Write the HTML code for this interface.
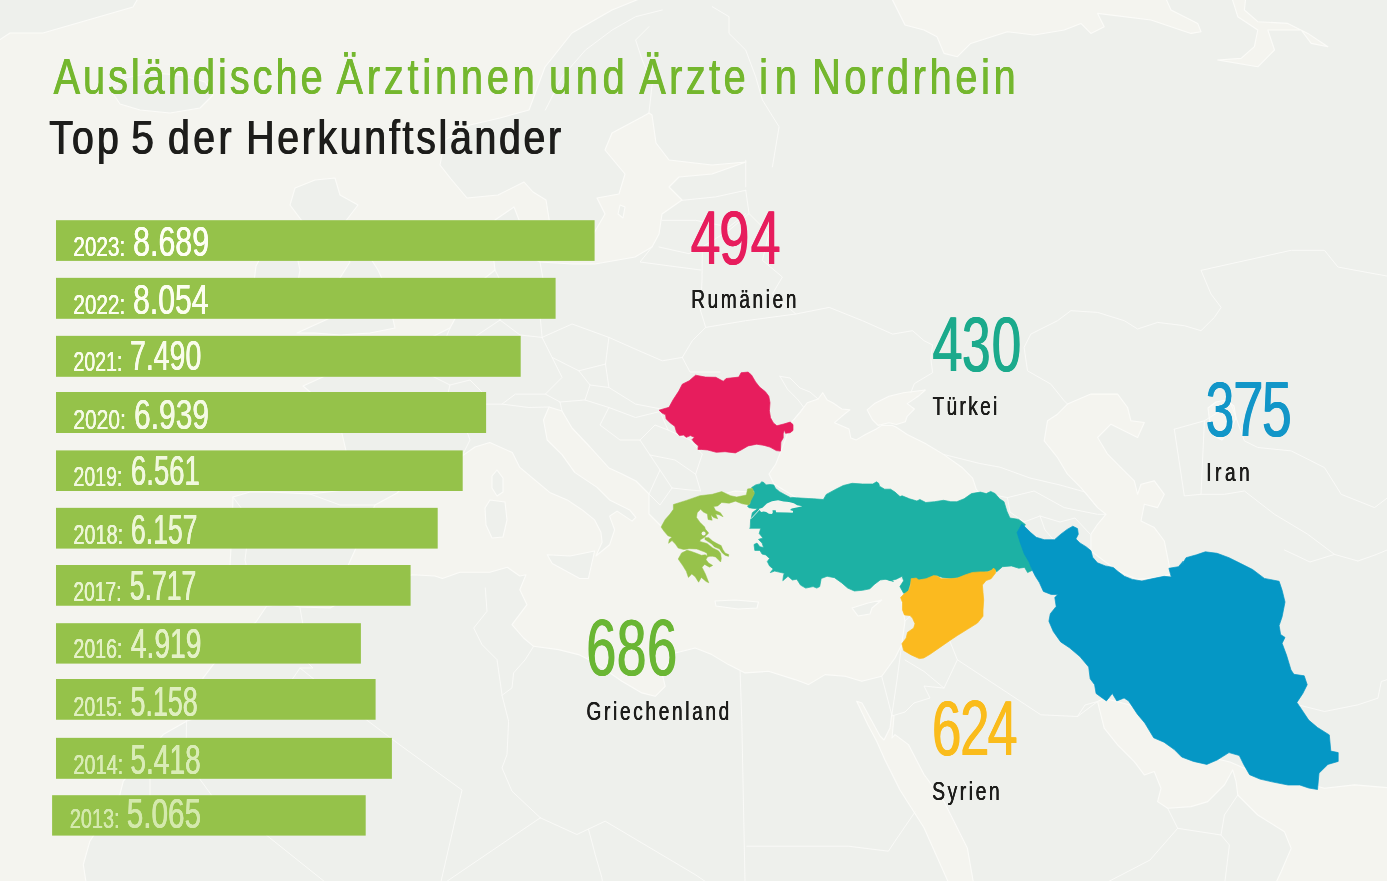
<!DOCTYPE html>
<html><head><meta charset="utf-8"><title>Ausländische Ärztinnen und Ärzte in Nordrhein</title>
<style>
html,body{margin:0;padding:0;background:#f4f4ef;}
body{width:1387px;height:881px;overflow:hidden;}
svg{display:block;font-family:"Liberation Sans",sans-serif;}
</style></head><body>
<svg width="1387" height="881" viewBox="0 0 1387 881">
<defs><mask id="full" maskUnits="userSpaceOnUse" x="0" y="0" width="1387" height="881"><rect width="1387" height="881" fill="#fff"/></mask></defs>
<g mask="url(#full)">
<rect width="1387" height="881" fill="#f4f4ef"/>
<g stroke="#fbfbf8" stroke-width="1.1" stroke-linejoin="round">
<path d="M86.6,886 L83.3,864.5 L89.9,841.2 L119.9,794.5 L123.3,781.2 L163.2,734.6 L186.5,721.2 L203.2,677.9 L213.2,664.6 L256.5,621.3 L266.5,606.3 L285,604 L300,607 L330,608 L345,600 L380,585 L412.4,574.8 L434.9,576 L442.4,578.5 L459.9,572.3 L489.8,572.3 L507.3,567.3 L519.8,576 L526,574.8 L519.8,589.7 L527,604.7 L512,624.6 L523.6,638 L533.6,646.3 L558.6,649.6 L578.6,654.6 L588.6,659.6 L605.2,669.6 L621.9,681.3 L641.9,692.9 L655.2,696.3 L665.2,686.3 L661.9,672.9 L675.2,653 L695.2,648 L711.8,654.6 L728.5,664.6 L745.1,672.9 L768.5,671.3 L795.1,679.6 L808.4,684.6 L825.1,674.6 L845.1,676.3 L861.7,681.3 L881.7,676.3 L895,658 L901.7,644.6 L905,621.3 L901.7,601.3 L902,590 L903,582 L890,572 L860,575 L845,572 L830,568 L815,570 L800,570 L780,560 L768,535 L756,510 L750,492 L735,491 L715,496 L697,503 L686,512 L681,530 L690,552 L697,572 L692,570 L688,560 L686,552 L680,546 L674,540 L668,533 L663,528 L649,514 L649,494 L636,481 L622,474 L609,468 L590,447 L572,428 L562,411 L549,407 L543.5,420 L547.2,440 L562.2,454.9 L574.7,472.4 L597.1,487.4 L609.6,499.9 L629.6,509.9 L635.8,517.4 L632.1,521.1 L617.1,511.1 L609.6,516.1 L614.6,529.8 L609.6,544.8 L595.9,556 L602.1,542.3 L600.9,532.3 L594.6,519.9 L582.2,509.9 L567.2,499.9 L549.7,492.4 L534.7,479.9 L519.8,467.4 L512.3,452.5 L489.8,442.5 L475,447 L462,456 L445,462 L425,468 L408,482 L397,493 L375,505 L366,525 L356,548 L346,570 L322,590 L292,598 L275,600 L255,592 L233,590 L230,565 L232,530 L233,497 L250,492 L270,492 L310,494 L345,490 L347,455 L340,425 L322,402 L303,386 L325,376 L345,373 L350,361 L358,372 L375,365 L400,352 L430,338 L450,328 L465,300 L480,282 L495,270 L492,245 L495,220 L514,207 L521,225 L516,250 L540,262 L572,264 L595,264 L635,257 L652,247 L659,234 L662,214 L672,207 L682,200 L669,187 L679,177 L712,174 L746,162 L712,165 L669,160 L656,143 L652,115 L649,113 L642,117 L612,133 L605,150 L625,174 L619,194 L597,198 L605,214 L594,233 L580,243 L560,241 L550,225 L546,200 L533,192 L524,182 L498,195 L467,198 L451,179 L440,165 L445,140 L470,125 L500,118 L529,110 L545,67 L572,33 L612,10 L649,-5 L1395,-5 L1395,886Z" fill="#eef0ec"/>
<path d="M890,-5 L905,25 L924,30 L937,36.7 L944,53.4 L957.4,56.7 L970.7,43.4 L1007.4,31.7 L1034.1,35 L1064.2,30 L1080.9,23.4 L1090.9,33.4 L1104.2,26.7 L1097.6,13.4 L1151,20 L1191,33.4 L1201,31.7 L1197.7,23.4 L1171,10 L1164.3,-5Z" fill="#f4f4ef"/>
<path d="M1231,-5 L1237.8,16.7 L1257.8,30 L1254.4,46.7 L1241.1,58.4 L1217.7,60 L1257.8,66.8 L1274.5,50 L1267.8,30 L1301.2,30 L1311.2,43.4 L1327.9,46.7 L1307.8,33.4 L1287.8,23.4 L1257.8,21.7 L1244.4,10 L1246,-5Z" fill="#f4f4ef"/>
<path d="M792.4,420.8 L793.6,419.9 L800,412.7 L807.2,402.7 L818.1,399 L822.7,392.7 L827.2,400 L832.7,402.7 L841.8,409 L849.9,409.9 L841.8,416.3 L834.5,422.7 L849,429 L850.8,438.1 L856.3,439.9 L865.4,434.5 L876.3,429 L881.7,425.4 L892.6,425.4 L896.3,427.2 L907.2,434.5 L925.3,443.5 L943.5,454.4 L961.7,467.2 L972.6,478.1 L976.2,489 L979.8,494.4 L990,500 L1000,510 L900,505 L800,500 L774,484 L769,474 L775.7,464.2 L782.4,447.5Z" fill="#f4f4ef"/>
<path d="M867.2,409.9 L874.5,403.6 L889,396.3 L903.5,392.7 L925.3,390 L918.1,396.3 L907.2,403.6 L914.4,409 L907.2,416.3 L905.3,421.7 L896.3,424.5 L889,422.7 L878.1,425.4 L872.6,419.9Z" fill="#f4f4ef"/>
<path d="M1067.5,404.1 L1090.9,394.1 L1117.6,394.1 L1127.6,407.5 L1130.9,420.8 L1144.3,422.5 L1137.6,437.5 L1110.9,424.2 L1097.6,437.5 L1107.6,454.2 L1120.9,467.6 L1134.3,480.9 L1137.6,494.3 L1141,484.3 L1154.3,480.9 L1164.3,494.3 L1157.6,507.6 L1144.3,504.3 L1141,521 L1154.3,527.6 L1164.3,541 L1171,574.4 L1154.3,577.7 L1137.6,579.4 L1117.6,571 L1104.2,561 L1090.9,551 L1090.9,534.3 L1097.6,524.3 L1105.9,514.3 L1097.6,507.6 L1080.9,487.6 L1067.5,474.2 L1057.5,457.5 L1044.2,440.9 L1047.5,420.8 L1057.5,414.2Z" fill="#f4f4ef"/>
<path d="M1208,408 L1216,402 L1226,400 L1234,406 L1236,418 L1230,430 L1222,440 L1214,436 L1210,424Z" fill="#f4f4ef"/>
<path d="M856.7,701.3 L862,703 L880,736 L884,740 L890,728 L891.7,714.6 L894,716 L892,738 L895,734.6 L908.4,744.6 L924,774.5 L944,801.6 L967.4,848.3 L974,886 L950,886 L924,827.8 L900,790 L885,760 L876.7,741.2 L868,725Z" fill="#f4f4ef"/>
<path d="M1097.6,701.5 L1104.2,698.2 L1130,705 L1160,730 L1200,755 L1230,762 L1260,775 L1300,782 L1324.5,788.3 L1354.6,784.9 L1395,788.3 L1395,886 L1274.5,886 L1281.1,871.7 L1291.2,848.4 L1284.5,831.7 L1257.8,815 L1237.8,795 L1236.1,781.6 L1232.7,769.9 L1224.4,784.9 L1207.7,801.6 L1191,806.6 L1167.7,808.3 L1157.6,801.6 L1161,788.3 L1154.3,771.6 L1144.3,774.9 L1134.3,761.6 L1117.6,744.9 L1104.2,728.2Z" fill="#f4f4ef"/>
<path d="M297,333 L330,318 L350,310 L325,300 L322,285 L340,278 L350,262 L335,245 L305,225 L290,205 L295,188 L315,180 L335,178 L340,195 L358,205 L345,222 L362,245 L378,270 L385,285 L398,295 L392,315 L395,328 L370,333 L340,335 L315,333Z" fill="#eef0ec"/>
<path d="M262,255 L280,246 L296,252 L300,270 L296,292 L280,304 L262,300 L254,282 L256,266Z" fill="#eef0ec"/>
<path d="M112,92 L125,78 L150,73 L180,75 L205,82 L213,95 L200,108 L170,113 L140,110 L120,104Z" fill="#eef0ec"/>
<path d="M-5,-5 L140,-5 L133,7 L43,33 L10,33 L-5,43Z" fill="#eef0ec"/>
<path d="M497,470 L503,478 L503,492 L497,496 L492,488 L492,476Z" fill="#eef0ec"/>
<path d="M490,500 L505,502 L507,520 L503,537 L492,538 L486,525 L485,508Z" fill="#eef0ec"/>
<path d="M547.2,554.8 L570,556 L594.6,551 L588.4,578.5 L579.7,578.5 L552.2,563.5Z" fill="#eef0ec"/>
<path d="M715,601 L735,600 L758.5,602 L757,608 L738,609 L716,606Z" fill="#eef0ec"/>
<path d="M852,608 L868,603 L881.7,600 L872,608 L870,614 L858,616Z" fill="#eef0ec"/>
<path d="M528,238 L540,236 L544,248 L534,254 L526,248Z" fill="#eef0ec"/>
<path d="M620,205 L625,207 L623,218 L618,214Z" fill="#eef0ec"/>
</g>
<g fill="none" stroke="#fbfbf8" stroke-width="0.9" stroke-linejoin="round" stroke-linecap="round" opacity="1">
<path d="M740.1,671.3 L741.8,721.2 L745.1,886"/>
<path d="M746.8,846.2 L848.4,846.2 L888.4,851.2 L895,841.2 L915,812"/>
<path d="M485.3,588 L487,611.3 L473.7,628 L482,644.6 L497,659.6 L502,694.6"/>
<path d="M533.6,646.3 L525.3,659.6 L513.6,672.9 L512,687.9 L502,695.3"/>
<path d="M502,695.3 L508.6,721.2 L507,754.6 L502,767.9 L512,791.2 L540.3,817.8"/>
<path d="M540.3,817.8 L576.9,834.5 L605.2,821.2 L695,874.5 L712,886"/>
<path d="M540.3,817.8 L462,871 L440,886"/>
<path d="M588.6,829.5 L595.2,854.5 L601.9,877.8 L603,886"/>
<path d="M300,608 L303,625 L296,640 L300,655 L313,668 L300,668 L285,690 L250,705 L215,712 L186.5,721.2"/>
<path d="M300,668 L340,700 L400,745 L462,790 L440,886"/>
<path d="M186.5,721.2 L186,760 L150,762 L150,800 L122,802 L120,795"/>
<path d="M186,760 L215,800 L260,830 L330,886"/>
<path d="M881.7,676.3 L891.7,714.6"/>
<path d="M901.7,644.6 L897,680 L892,714"/>
<path d="M892,716 L905,712 L914,703 L930,698 L924,686 L944,688.1"/>
<path d="M949,639 L957.4,659.8 L944,688.1 L924,671.4 L905,660"/>
<path d="M957.4,659.8 L1040.8,714.8 L1077.5,716.5 L1097.6,701.5"/>
<path d="M1077.5,716.5 L1085,705 L1097.6,701.5"/>
<path d="M1167.7,808.3 L1177.7,828.3 L1221,835 L1224.4,815 L1237.8,795"/>
<path d="M1221,835 L1229.4,845 L1224.4,886"/>
<path d="M1177.7,828.3 L1150,860 L1100,886"/>
<path d="M902,601 L912,603 L915,612 L905,621"/>
<path d="M1297.8,704.8 L1324.5,711.5 L1357.9,704.8 L1377.9,698.2 L1381.3,681.5 L1392,678.1"/>
<path d="M1284.5,550 L1310,562 L1334.5,554.4"/>
<path d="M1357.9,561 L1375,555 L1392,548"/>
<path d="M1067.5,404.1 L1064.2,400.8 L1050.8,384.1 L1027.5,370.8 L1024.1,347.4 L1030.8,334.1 L1057.5,320.7 L1070.9,310.7 L1097.6,312.4 L1124.3,320.7 L1137.6,329 L1157.6,322.4 L1184.3,325.7 L1201,330.7 L1214.4,317.4 L1221.1,307.4 L1211,294 L1201,270.4 L1291.2,250.3 L1324.5,250.3 L1337.9,267 L1392,277"/>
<path d="M1174.3,429.2 L1204.4,420.8 L1201,494.3 L1184.3,495.9 L1174.3,429.2"/>
<path d="M1204.4,420.8 L1231.1,404.1 L1244.4,440.9 L1257.8,447.5 L1291.2,450.9 L1324.5,467.6 L1341.2,494.3 L1374.6,507.6 L1392,494.3"/>
<path d="M1201,494.3 L1224.4,494.3 L1244.4,491 L1274.5,514.3 L1307.8,534.3 L1334.5,554.4 L1357.9,561"/>
<path d="M943.5,454.4 L979.8,463.5 L1000,467.2 L1030,478 L1060,485 L1085,492 L1097.6,507.6"/>
<path d="M974,491 L1007.4,497.6 L1034.1,491 L1064.2,507.6 L1097.6,514.3 L1105.9,514.3"/>
<path d="M1007.4,497.6 L1010,512 L1024,522"/>
<path d="M1024,522 L1040,516 L1060,522 L1075,518 L1090,534"/>
<path d="M1040,516 L1045,530 L1058,545"/>
<path d="M705.7,327.4 L745.7,320.7 L795.8,314 L829.2,307.4 L862.5,320.7 L892.6,334.1 L912.6,330.7 L924,340.7 L932.6,345 L930.8,358.2 L932.6,372.7 L914.4,383.6 L910.8,392.7"/>
<path d="M780,376.3 L787.3,389 L798.2,400 L803.6,407.2 L793.6,419.9"/>
<path d="M780,376.3 L790,378 L800,388 L810,392 L818.1,399"/>
<path d="M749.1,213.6 L769.1,233.6 L762.4,260.3 L782.4,277 L772.4,294 L795.8,314"/>
<path d="M700.6,310.7 L702,280 L702.3,247"/>
<path d="M542.1,337.4 L572.1,324 L608.9,337.4 L638.9,350.7 L662.3,360.8 L682.3,357.4 L692.3,340.7 L705.7,327.4 L700.6,310.7 L695.6,294"/>
<path d="M542.1,337.4 L552.1,357.4 L578.8,370.8 L605.5,364.1 L608.9,337.4"/>
<path d="M540,262 L545,290 L540,315 L542.1,337.4"/>
<path d="M605.5,364.1 L608.9,387.5 L635.6,404.1 L662.3,409.2"/>
<path d="M608.9,407.5 L635.6,417.5 L660,411.5"/>
<path d="M552.1,357.4 L562.1,377.4 L545.4,394.1 L515.4,394.1 L502,404.1"/>
<path d="M578.8,370.8 L590,385 L608.9,387.5"/>
<path d="M590,385 L585,400 L608.9,407.5"/>
<path d="M462,417.5 L482,404.1 L502,404.1 L528.8,407.5 L549,407"/>
<path d="M545.4,394.1 L560,402 L562,411"/>
<path d="M560,402 L585,400"/>
<path d="M682.3,357.4 L690,372 L720,372"/>
<path d="M702.3,454.2 L695.6,474.2 L700.6,490.9"/>
<path d="M660,411.5 L668,430 L690,440 L702.3,454.2"/>
<path d="M608.9,407.5 L600,425 L620,440 L640,440 L650,455 L660,470 L649,494"/>
<path d="M640,440 L655,425 L668,430"/>
<path d="M650,455 L675,460 L695.6,474.2"/>
<path d="M660,470 L672,488 L690,490 L700.6,490.9"/>
<path d="M649,494 L660,505 L672,488"/>
<path d="M545.4,110 L562.1,76.8 L585.5,50 L612.2,30 L635.6,16.7 L662.3,10"/>
<path d="M648.9,113.5 L652.3,83.4 L642.2,60 L635.6,40 L648.9,26.7"/>
<path d="M772.4,166.9 L779.1,126.8 L762.4,100 L755.7,76.8 L745.7,50 L729,33.4 L729,16.7 L712.3,6.7"/>
<path d="M745.7,160.2 L745.7,186.9"/>
<path d="M682.3,200.3 L715.7,196.9 L745.7,190.3"/>
<path d="M662.3,220.3 L695.6,220.3 L729,227 L745.7,213.6"/>
<path d="M659,247 L689,253.7 L702.3,247 L729,230.3"/>
<path d="M745.7,190.3 L749.1,213.6 L729,230.3"/>
<path d="M652,247 L640,262 L700.6,270"/>
<path d="M310,494 L340,505 L375,505"/>
<path d="M233,497 L250,520 L245,560 L252,590"/>
<path d="M462,456 L470,440 L462,417.5 L445,405 L450,385 L430,375 L440,352 L450,328"/>
<path d="M450,385 L470,380 L485,395 L482,404.1"/>
<path d="M495,270 L505,290 L500,320 L470,340 L440,352"/>
<path d="M500,320 L520,335 L542.1,337.4"/>
<path d="M492,245 L516,250"/>
</g>
<rect x="56" y="220.2" width="538.6" height="40.70" fill="#95c24a"/>
<text transform="translate(73.26,255.67) scale(0.2074,0.2777)" font-size="100" fill="#fefff4">2023:</text>
<text transform="translate(73.36,255.67) scale(0.2074,0.2777)" font-size="100" fill="#fefff4">2023:</text>
<text transform="translate(73.46,255.67) scale(0.2074,0.2777)" font-size="100" fill="#fefff4">2023:</text>
<text transform="translate(132.89,255.53) scale(0.3035,0.4234)" font-size="100" fill="#fefff4">8.689</text>
<text transform="translate(133.11,255.53) scale(0.3035,0.4234)" font-size="100" fill="#fefff4">8.689</text>
<text transform="translate(133.33,255.53) scale(0.3035,0.4234)" font-size="100" fill="#fefff4">8.689</text>
<rect x="56" y="277.85" width="499.6" height="40.95" fill="#95c24a"/>
<text transform="translate(73.26,313.67) scale(0.2074,0.2777)" font-size="100" fill="#fcfef0">2022:</text>
<text transform="translate(73.36,313.67) scale(0.2074,0.2777)" font-size="100" fill="#fcfef0">2022:</text>
<text transform="translate(73.46,313.67) scale(0.2074,0.2777)" font-size="100" fill="#fcfef0">2022:</text>
<text transform="translate(132.90,313.53) scale(0.3013,0.4234)" font-size="100" fill="#fcfef0">8.054</text>
<text transform="translate(133.12,313.53) scale(0.3013,0.4234)" font-size="100" fill="#fcfef0">8.054</text>
<text transform="translate(133.34,313.53) scale(0.3013,0.4234)" font-size="100" fill="#fcfef0">8.054</text>
<rect x="56" y="335.85" width="464.7" height="40.95" fill="#95c24a"/>
<text transform="translate(73.32,370.62) scale(0.1956,0.2784)" font-size="100" fill="#f9fceb">2021:</text>
<text transform="translate(73.42,370.62) scale(0.1956,0.2784)" font-size="100" fill="#f9fceb">2021:</text>
<text transform="translate(73.52,370.62) scale(0.1956,0.2784)" font-size="100" fill="#f9fceb">2021:</text>
<text transform="translate(129.86,370.48) scale(0.2845,0.4255)" font-size="100" fill="#f9fceb">7.490</text>
<text transform="translate(130.08,370.48) scale(0.2845,0.4255)" font-size="100" fill="#f9fceb">7.490</text>
<text transform="translate(130.30,370.48) scale(0.2845,0.4255)" font-size="100" fill="#f9fceb">7.490</text>
<rect x="56" y="392.0" width="430.1" height="41.00" fill="#95c24a"/>
<text transform="translate(73.25,428.67) scale(0.2099,0.2777)" font-size="100" fill="#f5fae5">2020:</text>
<text transform="translate(73.35,428.67) scale(0.2099,0.2777)" font-size="100" fill="#f5fae5">2020:</text>
<text transform="translate(73.45,428.67) scale(0.2099,0.2777)" font-size="100" fill="#f5fae5">2020:</text>
<text transform="translate(133.88,428.53) scale(0.2995,0.4234)" font-size="100" fill="#f5fae5">6.939</text>
<text transform="translate(134.10,428.53) scale(0.2995,0.4234)" font-size="100" fill="#f5fae5">6.939</text>
<text transform="translate(134.32,428.53) scale(0.2995,0.4234)" font-size="100" fill="#f5fae5">6.939</text>
<rect x="56" y="450.4" width="406.7" height="40.60" fill="#95c24a"/>
<text transform="translate(73.32,485.62) scale(0.1956,0.2784)" font-size="100" fill="#f1f8de">2019:</text>
<text transform="translate(73.42,485.62) scale(0.1956,0.2784)" font-size="100" fill="#f1f8de">2019:</text>
<text transform="translate(73.52,485.62) scale(0.1956,0.2784)" font-size="100" fill="#f1f8de">2019:</text>
<text transform="translate(130.81,485.48) scale(0.2744,0.4255)" font-size="100" fill="#f1f8de">6.561</text>
<text transform="translate(131.03,485.48) scale(0.2744,0.4255)" font-size="100" fill="#f1f8de">6.561</text>
<text transform="translate(131.25,485.48) scale(0.2744,0.4255)" font-size="100" fill="#f1f8de">6.561</text>
<rect x="56" y="507.85" width="381.7" height="40.75" fill="#95c24a"/>
<text transform="translate(73.31,543.67) scale(0.1989,0.2777)" font-size="100" fill="#edf6d7">2018:</text>
<text transform="translate(73.41,543.67) scale(0.1989,0.2777)" font-size="100" fill="#edf6d7">2018:</text>
<text transform="translate(73.51,543.67) scale(0.1989,0.2777)" font-size="100" fill="#edf6d7">2018:</text>
<text transform="translate(130.85,543.53) scale(0.2651,0.4234)" font-size="100" fill="#edf6d7">6.157</text>
<text transform="translate(131.07,543.53) scale(0.2651,0.4234)" font-size="100" fill="#edf6d7">6.157</text>
<text transform="translate(131.29,543.53) scale(0.2651,0.4234)" font-size="100" fill="#edf6d7">6.157</text>
<rect x="56" y="565.0" width="354.6" height="40.75" fill="#95c24a"/>
<text transform="translate(73.34,600.62) scale(0.1920,0.2784)" font-size="100" fill="#e8f4cf">2017:</text>
<text transform="translate(73.44,600.62) scale(0.1920,0.2784)" font-size="100" fill="#e8f4cf">2017:</text>
<text transform="translate(73.54,600.62) scale(0.1920,0.2784)" font-size="100" fill="#e8f4cf">2017:</text>
<text transform="translate(129.62,600.48) scale(0.2657,0.4205)" font-size="100" fill="#e8f4cf">5.717</text>
<text transform="translate(129.84,600.48) scale(0.2657,0.4205)" font-size="100" fill="#e8f4cf">5.717</text>
<text transform="translate(130.06,600.48) scale(0.2657,0.4205)" font-size="100" fill="#e8f4cf">5.717</text>
<rect x="56" y="623.2" width="304.9" height="40.40" fill="#95c24a"/>
<text transform="translate(73.32,657.72) scale(0.1956,0.2799)" font-size="100" fill="#e4f1c7">2016:</text>
<text transform="translate(73.42,657.72) scale(0.1956,0.2799)" font-size="100" fill="#e4f1c7">2016:</text>
<text transform="translate(73.52,657.72) scale(0.1956,0.2799)" font-size="100" fill="#e4f1c7">2016:</text>
<text transform="translate(130.65,657.58) scale(0.2821,0.4270)" font-size="100" fill="#e4f1c7">4.919</text>
<text transform="translate(130.87,657.58) scale(0.2821,0.4270)" font-size="100" fill="#e4f1c7">4.919</text>
<text transform="translate(131.09,657.58) scale(0.2821,0.4270)" font-size="100" fill="#e4f1c7">4.919</text>
<rect x="56" y="679.0" width="319.6" height="40.75" fill="#95c24a"/>
<text transform="translate(73.32,715.72) scale(0.1956,0.2784)" font-size="100" fill="#dfefbf">2015:</text>
<text transform="translate(73.42,715.72) scale(0.1956,0.2784)" font-size="100" fill="#dfefbf">2015:</text>
<text transform="translate(73.52,715.72) scale(0.1956,0.2784)" font-size="100" fill="#dfefbf">2015:</text>
<text transform="translate(130.20,715.58) scale(0.2694,0.4241)" font-size="100" fill="#dfefbf">5.158</text>
<text transform="translate(130.42,715.58) scale(0.2694,0.4241)" font-size="100" fill="#dfefbf">5.158</text>
<text transform="translate(130.64,715.58) scale(0.2694,0.4241)" font-size="100" fill="#dfefbf">5.158</text>
<rect x="56" y="737.85" width="335.9" height="40.95" fill="#95c24a"/>
<text transform="translate(73.31,773.72) scale(0.1989,0.2784)" font-size="100" fill="#d9ecb6">2014:</text>
<text transform="translate(73.41,773.72) scale(0.1989,0.2784)" font-size="100" fill="#d9ecb6">2014:</text>
<text transform="translate(73.51,773.72) scale(0.1989,0.2784)" font-size="100" fill="#d9ecb6">2014:</text>
<text transform="translate(130.15,773.58) scale(0.2814,0.4241)" font-size="100" fill="#d9ecb6">5.418</text>
<text transform="translate(130.37,773.58) scale(0.2814,0.4241)" font-size="100" fill="#d9ecb6">5.418</text>
<text transform="translate(130.59,773.58) scale(0.2814,0.4241)" font-size="100" fill="#d9ecb6">5.418</text>
<rect x="52.1" y="795.2" width="313.6" height="40.40" fill="#95c24a"/>
<text transform="translate(69.71,827.82) scale(0.1989,0.2770)" font-size="100" fill="#d4e9ad">2013:</text>
<text transform="translate(69.81,827.82) scale(0.1989,0.2770)" font-size="100" fill="#d4e9ad">2013:</text>
<text transform="translate(69.91,827.82) scale(0.1989,0.2770)" font-size="100" fill="#d4e9ad">2013:</text>
<text transform="translate(126.49,827.68) scale(0.2976,0.4284)" font-size="100" fill="#d4e9ad">5.065</text>
<text transform="translate(126.71,827.68) scale(0.2976,0.4284)" font-size="100" fill="#d4e9ad">5.065</text>
<text transform="translate(126.93,827.68) scale(0.2976,0.4284)" font-size="100" fill="#d4e9ad">5.065</text>
<text transform="translate(53.20,93.50) scale(0.3968,0.4960)" font-size="100" fill="#74b72e" letter-spacing="7.59">Ausländische</text>
<text transform="translate(53.55,93.50) scale(0.3968,0.4960)" font-size="100" fill="#74b72e" letter-spacing="7.59">Ausländische</text>
<text transform="translate(53.90,93.50) scale(0.3968,0.4960)" font-size="100" fill="#74b72e" letter-spacing="7.59">Ausländische</text>
<text transform="translate(336.15,93.50) scale(0.3968,0.4960)" font-size="100" fill="#74b72e" letter-spacing="9.65">Ärztinnen</text>
<text transform="translate(336.50,93.50) scale(0.3968,0.4960)" font-size="100" fill="#74b72e" letter-spacing="9.65">Ärztinnen</text>
<text transform="translate(336.85,93.50) scale(0.3968,0.4960)" font-size="100" fill="#74b72e" letter-spacing="9.65">Ärztinnen</text>
<text transform="translate(548.77,93.50) scale(0.3968,0.4960)" font-size="100" fill="#74b72e" letter-spacing="11.71">und</text>
<text transform="translate(549.12,93.50) scale(0.3968,0.4960)" font-size="100" fill="#74b72e" letter-spacing="11.71">und</text>
<text transform="translate(549.47,93.50) scale(0.3968,0.4960)" font-size="100" fill="#74b72e" letter-spacing="11.71">und</text>
<text transform="translate(638.95,93.50) scale(0.3968,0.4960)" font-size="100" fill="#74b72e" letter-spacing="8.65">Ärzte</text>
<text transform="translate(639.30,93.50) scale(0.3968,0.4960)" font-size="100" fill="#74b72e" letter-spacing="8.65">Ärzte</text>
<text transform="translate(639.65,93.50) scale(0.3968,0.4960)" font-size="100" fill="#74b72e" letter-spacing="8.65">Ärzte</text>
<text transform="translate(758.87,93.50) scale(0.3968,0.4960)" font-size="100" fill="#74b72e" letter-spacing="17.16">in</text>
<text transform="translate(759.22,93.50) scale(0.3968,0.4960)" font-size="100" fill="#74b72e" letter-spacing="17.16">in</text>
<text transform="translate(759.57,93.50) scale(0.3968,0.4960)" font-size="100" fill="#74b72e" letter-spacing="17.16">in</text>
<text transform="translate(811.68,93.50) scale(0.3968,0.4960)" font-size="100" fill="#74b72e" letter-spacing="9.25">Nordrhein</text>
<text transform="translate(812.03,93.50) scale(0.3968,0.4960)" font-size="100" fill="#74b72e" letter-spacing="9.25">Nordrhein</text>
<text transform="translate(812.38,93.50) scale(0.3968,0.4960)" font-size="100" fill="#74b72e" letter-spacing="9.25">Nordrhein</text>
<text transform="translate(48.67,153.80) scale(0.3924,0.4785)" font-size="100" fill="#1d1d1b" letter-spacing="8.06">Top</text>
<text transform="translate(49.17,153.80) scale(0.3924,0.4785)" font-size="100" fill="#1d1d1b" letter-spacing="8.06">Top</text>
<text transform="translate(49.67,153.80) scale(0.3924,0.4785)" font-size="100" fill="#1d1d1b" letter-spacing="8.06">Top</text>
<text transform="translate(130.87,153.80) scale(0.4084,0.4785)" font-size="100" fill="#1d1d1b">5</text>
<text transform="translate(131.37,153.80) scale(0.4084,0.4785)" font-size="100" fill="#1d1d1b">5</text>
<text transform="translate(131.87,153.80) scale(0.4084,0.4785)" font-size="100" fill="#1d1d1b">5</text>
<text transform="translate(167.53,153.80) scale(0.3924,0.4785)" font-size="100" fill="#1d1d1b" letter-spacing="8.73">der</text>
<text transform="translate(168.03,153.80) scale(0.3924,0.4785)" font-size="100" fill="#1d1d1b" letter-spacing="8.73">der</text>
<text transform="translate(168.53,153.80) scale(0.3924,0.4785)" font-size="100" fill="#1d1d1b" letter-spacing="8.73">der</text>
<text transform="translate(245.66,153.80) scale(0.3924,0.4785)" font-size="100" fill="#1d1d1b" letter-spacing="6.91">Herkunftsländer</text>
<text transform="translate(246.16,153.80) scale(0.3924,0.4785)" font-size="100" fill="#1d1d1b" letter-spacing="6.91">Herkunftsländer</text>
<text transform="translate(246.66,153.80) scale(0.3924,0.4785)" font-size="100" fill="#1d1d1b" letter-spacing="6.91">Herkunftsländer</text>
<path d="M659.0,410.2 L669.0,407.3 L673.1,399.8 L678.8,391.1 L682.3,384.2 L689.2,380.8 L695.6,375.2 L705.4,377.1 L715.8,377.3 L723.3,381.3 L726.1,378.5 L738.8,377.1 L741.1,372.7 L748.1,372.1 L751.5,375.0 L755.6,381.9 L759.6,387.1 L765.4,391.7 L768.8,396.3 L770.0,402.7 L769.4,410.8 L770.5,417.7 L773.4,422.9 L776.9,425.8 L783.8,424.0 L790.2,422.1 L793.0,424.6 L793.0,430.4 L790.2,432.7 L785.5,433.3 L784.4,429.8 L783.2,433.8 L783.2,437.9 L780.9,441.9 L780.4,451.1 L776.3,450.6 L770.0,447.1 L764.2,445.4 L756.7,444.2 L748.1,445.9 L741.1,450.0 L735.4,452.9 L725.0,451.7 L716.3,452.3 L707.7,450.0 L701.3,449.4 L697.9,449.4 L698.4,445.9 L694.4,442.5 L692.1,439.6 L694.4,437.3 L690.4,435.6 L686.3,437.3 L683.5,435.0 L679.4,435.6 L676.5,432.1 L674.8,426.3 L670.2,422.9 L666.1,418.8 L665.6,414.8 L662.1,413.1Z" fill="#e71d5d" stroke="#e71d5d" stroke-width="0.7" stroke-linejoin="round"/>
<path d="M747.5,506.0 L750.2,503.6 L750.9,498.1 L752.9,496.8 L754.6,492.0 L751.6,487.6 L755.7,484.9 L759.7,483.9 L761.8,481.8 L763.8,482.5 L766.2,484.9 L770.0,484.5 L773.7,484.9 L775.4,488.3 L779.5,491.7 L784.9,494.7 L790.7,497.8 L792.4,497.5 L796.5,497.8 L808.1,498.5 L813.8,498.8 L823.4,499.5 L826.3,494.4 L835.9,489.2 L843.3,485.5 L852.2,483.3 L862.5,484.0 L872.8,484.0 L876.5,481.8 L878.7,483.3 L879.5,486.2 L884.6,489.2 L890.6,489.2 L895.0,492.1 L900.0,496.6 L902.1,495.8 L909.5,498.8 L916.9,501.0 L919.9,499.5 L925.8,502.5 L934.6,501.7 L943.5,500.3 L950.8,501.7 L956.8,501.7 L964.1,498.8 L971.5,493.6 L980.4,492.1 L986.3,493.6 L990.7,491.4 L995.1,493.6 L999.6,498.8 L1004.0,501.7 L1006.9,511.3 L1009.9,518.0 L1018.7,519.4 L1025.4,524.6 L1021.0,531.3 L1023.5,539.4 L1026.4,549.7 L1030.8,558.6 L1032.0,570.4 L1027.6,572.6 L1024.6,567.4 L1018.7,568.2 L1011.4,565.9 L1002.5,566.7 L996.6,571.8 L994.4,568.9 L989.2,571.1 L981.8,572.6 L971.5,574.1 L961.2,577.0 L952.3,578.5 L943.5,577.7 L936.1,575.5 L928.7,578.5 L919.9,580.0 L911.7,578.5 L909.5,586.6 L907.3,593.2 L903.6,593.2 L899.9,586.6 L903.6,580.7 L902.1,576.3 L896.2,579.2 L890.3,580.7 L884.4,578.5 L880.0,576.3 L893.5,581.4 L886.1,579.2 L880.2,580.0 L874.3,584.4 L869.9,588.8 L862.5,590.3 L854.4,591.0 L847.7,588.1 L841.8,582.9 L834.5,577.7 L827.1,576.3 L821.2,578.5 L819.7,586.6 L816.8,588.1 L813.1,586.6 L805.7,588.1 L800.5,585.1 L796.8,579.2 L792.4,580.0 L788.0,576.3 L782.8,580.7 L783.5,575.5 L784.3,573.3 L774.7,571.1 L770.3,572.6 L773.2,568.9 L769.5,565.9 L767.3,561.5 L769.5,558.6 L765.8,554.9 L762.1,554.1 L759.9,550.4 L754.8,550.4 L754.0,544.5 L757.0,543.1 L759.9,546.8 L763.6,547.5 L762.1,543.1 L758.5,539.4 L762.9,537.9 L759.2,533.5 L760.7,528.3 L749.6,528.3 L750.2,528.1 L750.6,519.6 L751.2,518.6 L752.3,512.8 L757.7,508.5 L753.6,508.4 L748.9,507.7Z" fill="#1db1a4" stroke="#1db1a4" stroke-width="0.7" stroke-linejoin="round"/>
<path d="M766.9,503.6 L772.0,501.2 L778.1,500.2 L783.6,501.4 L789.0,501.9 L793.8,503.3 L797.2,505.3 L802.3,506.2 L797.9,507.3 L791.7,508.4 L790.0,510.1 L793.1,511.1 L792.8,512.8 L787.7,512.4 L776.1,512.3 L775.7,510.3 L772.5,510.3 L772.8,512.4 L772.0,513.9 L768.9,513.7 L766.2,512.1 L763.8,511.4 L761.1,512.1 L758.7,509.0 L762.5,507.7Z" fill="#f4f4ef"/>
<path d="M759.7,509.4 L751.2,518.6" stroke="#f4f4ef" stroke-width="1.0" fill="none" opacity="0.85"/>
<path d="M661.1,527.0 L665.2,519.5 L670.0,514.1 L673.4,509.3 L673.4,504.5 L686.3,500.4 L699.9,495.7 L712.2,494.3 L721.7,491.6 L730.6,495.7 L736.7,497.0 L746.3,495.0 L747.6,488.9 L752.4,488.2 L754.4,493.6 L751.0,500.4 L749.0,504.9 L742.2,503.8 L735.4,501.2 L729.2,503.2 L721.7,502.5 L717.7,505.9 L713.6,506.6 L715.6,510.6 L720.4,512.7 L723.1,516.8 L719.0,514.7 L715.6,514.1 L717.7,518.8 L713.6,517.5 L710.8,514.7 L712.2,520.2 L708.1,519.5 L707.4,514.1 L703.4,512.0 L700.6,509.3 L697.2,512.7 L696.5,517.5 L699.9,522.2 L704.7,527.0 L705.3,529.1 L708.7,533.1 L706.5,535.3 L704.2,537.6 L700.3,539.8 L699.8,541.4 L707.0,543.5 L712.7,547.9 L718.4,550.8 L720.6,553.5 L721.3,558.6 L720.6,562.0 L718.4,559.7 L715.5,556.9 L712.7,556.3 L709.9,556.3 L707.2,557.0 L707.0,553.2 L704.2,551.8 L696.8,549.0 L690.0,548.7 L689.1,548.8 L683.6,549.5 L678.2,548.1 L675.4,544.0 L672.0,540.6 L668.6,543.3 L669.3,539.3 L672.0,537.2 L667.9,535.8 L663.9,531.1Z" fill="#97c24b" stroke="#97c24b" stroke-width="0.5" stroke-linejoin="round"/>
<path d="M687.0,550.3 L690.0,551.0 L695.7,553.0 L701.4,555.3 L705.3,554.8 L707.6,556.6 L706.0,559.7 L708.7,563.1 L712.7,565.4 L709.5,567.2 L704.7,564.4 L702.0,567.2 L705.4,574.0 L708.8,582.8 L706.1,581.5 L701.3,577.4 L698.6,582.2 L695.2,576.7 L691.8,574.0 L688.4,577.4 L686.3,571.3 L682.9,565.8 L678.2,559.0 L681.6,552.9Z" fill="#97c24b" stroke="#97c24b" stroke-width="0.5" stroke-linejoin="round"/>
<path d="M705.0,537.6 L708.7,537.4 L712.7,541.0 L717.2,543.6 L721.2,545.5 L722.9,549.5 L725.2,552.9 L728.9,554.6 L728.6,556.5 L725.2,555.4 L721.8,552.5 L719.5,549.1 L714.4,546.9 L711.6,544.0 L708.2,541.8 L704.8,539.5Z" fill="#97c24b" stroke="#97c24b" stroke-width="0.3" stroke-linejoin="round"/>
<circle cx="703.6" cy="533.6" r="2.0" fill="#f4f4ef"/>
<path d="M911.2,578.7 L916.2,578.1 L918.7,580.0 L926.2,578.7 L933.7,575.6 L937.5,576.2 L941.2,578.7 L949.9,578.7 L957.4,578.1 L964.9,575.0 L972.4,572.5 L979.9,571.9 L987.4,571.9 L991.1,570.6 L993.6,568.1 L995.5,570.0 L995.5,573.1 L991.1,578.7 L986.1,580.6 L982.4,585.0 L983.0,592.5 L983.7,600.0 L983.0,609.9 L983.0,616.2 L977.4,623.1 L967.4,629.3 L957.4,635.5 L949.9,640.5 L939.9,647.4 L930.0,654.3 L923.7,658.0 L919.3,658.6 L911.2,654.9 L903.7,650.5 L901.9,643.7 L906.2,638.0 L907.5,632.4 L913.7,628.1 L915.0,623.7 L912.5,618.1 L910.0,615.6 L904.4,614.9 L902.5,609.9 L902.5,602.5 L900.6,597.5 L903.7,594.3 L908.7,590.6 L910.6,585.0Z" fill="#fbba1f" stroke="#fbba1f" stroke-width="0.7" stroke-linejoin="round"/>
<path d="M1032.2,569.9 L1029.1,562.0 L1024.3,554.0 L1020.3,542.9 L1017.1,532.6 L1021.9,523.8 L1025.9,527.8 L1030.7,532.6 L1036.2,537.3 L1044.2,539.7 L1054.5,539.7 L1060.8,534.2 L1067.2,529.4 L1072.8,526.2 L1077.5,528.6 L1078.3,534.2 L1075.9,538.9 L1079.9,542.9 L1086.3,546.9 L1091.0,550.8 L1092.6,557.2 L1097.4,562.8 L1105.3,565.9 L1113.3,567.5 L1118.0,571.5 L1124.4,576.3 L1132.3,579.4 L1141.9,581.0 L1153.0,578.6 L1164.1,576.3 L1171.3,577.1 L1168.9,568.3 L1178.4,566.7 L1183.2,561.2 L1181.7,565.1 L1186.1,557.7 L1196.5,554.8 L1205.3,551.8 L1217.1,553.3 L1229.0,557.7 L1240.8,563.6 L1252.6,569.5 L1264.4,578.4 L1279.1,581.3 L1282.1,590.2 L1285.0,602.0 L1282.1,616.8 L1279.1,625.6 L1280.6,634.5 L1285.0,637.4 L1282.1,643.3 L1286.5,655.1 L1291.0,669.9 L1293.9,674.3 L1304.2,675.8 L1307.2,684.7 L1302.8,693.5 L1296.9,702.4 L1302.8,711.2 L1308.7,720.1 L1317.5,727.5 L1329.3,734.9 L1330.8,751.1 L1338.2,752.6 L1338.2,761.4 L1327.9,764.4 L1319.0,773.2 L1317.5,789.5 L1308.7,788.0 L1299.8,785.0 L1288.0,785.0 L1273.2,782.1 L1260.0,779.1 L1249.6,774.7 L1243.7,764.4 L1239.3,755.5 L1229.0,752.6 L1217.1,760.0 L1206.8,764.4 L1193.5,761.4 L1181.7,757.0 L1174.3,749.6 L1164.0,742.2 L1153.7,737.8 L1144.8,723.0 L1137.4,714.2 L1128.6,700.9 L1124.1,698.0 L1116.8,700.9 L1112.3,693.5 L1106.4,700.9 L1096.1,693.5 L1094.6,684.7 L1090.2,678.8 L1088.7,667.0 L1079.9,656.6 L1069.5,647.8 L1060.7,641.9 L1053.3,631.5 L1048.9,621.2 L1050.3,613.8 L1056.2,606.4 L1054.8,597.6 L1057.7,594.6 L1051.3,594.5 L1043.4,591.4 L1039.4,582.6 L1035.4,576.3Z" fill="#0597c5" stroke="#0597c5" stroke-width="0.7" stroke-linejoin="round"/>
<text transform="translate(690.14,263.80) scale(0.5386,0.7636)" font-size="100" fill="#e71d5d">4</text>
<text transform="translate(690.59,263.80) scale(0.5386,0.7636)" font-size="100" fill="#e71d5d">4</text>
<text transform="translate(691.04,263.80) scale(0.5386,0.7636)" font-size="100" fill="#e71d5d">4</text>
<text transform="translate(718.87,263.80) scale(0.5427,0.7636)" font-size="100" fill="#e71d5d">9</text>
<text transform="translate(719.32,263.80) scale(0.5427,0.7636)" font-size="100" fill="#e71d5d">9</text>
<text transform="translate(719.77,263.80) scale(0.5427,0.7636)" font-size="100" fill="#e71d5d">9</text>
<text transform="translate(750.13,263.80) scale(0.5406,0.7636)" font-size="100" fill="#e71d5d">4</text>
<text transform="translate(750.58,263.80) scale(0.5406,0.7636)" font-size="100" fill="#e71d5d">4</text>
<text transform="translate(751.03,263.80) scale(0.5406,0.7636)" font-size="100" fill="#e71d5d">4</text>
<text transform="translate(691.05,307.90) scale(0.1905,0.2575)" font-size="100" fill="#1d1d1b" letter-spacing="13.82">Rumänien</text>
<text transform="translate(691.23,307.90) scale(0.1905,0.2575)" font-size="100" fill="#1d1d1b" letter-spacing="13.82">Rumänien</text>
<text transform="translate(691.41,307.90) scale(0.1905,0.2575)" font-size="100" fill="#1d1d1b" letter-spacing="13.82">Rumänien</text>
<text transform="translate(932.03,371.00) scale(0.5406,0.7709)" font-size="100" fill="#1baa8c">4</text>
<text transform="translate(932.48,371.00) scale(0.5406,0.7709)" font-size="100" fill="#1baa8c">4</text>
<text transform="translate(932.93,371.00) scale(0.5406,0.7709)" font-size="100" fill="#1baa8c">4</text>
<text transform="translate(961.52,371.00) scale(0.5137,0.7709)" font-size="100" fill="#1baa8c">3</text>
<text transform="translate(961.97,371.00) scale(0.5137,0.7709)" font-size="100" fill="#1baa8c">3</text>
<text transform="translate(962.42,371.00) scale(0.5137,0.7709)" font-size="100" fill="#1baa8c">3</text>
<text transform="translate(991.23,371.00) scale(0.5298,0.7709)" font-size="100" fill="#1baa8c">0</text>
<text transform="translate(991.68,371.00) scale(0.5298,0.7709)" font-size="100" fill="#1baa8c">0</text>
<text transform="translate(992.13,371.00) scale(0.5298,0.7709)" font-size="100" fill="#1baa8c">0</text>
<text transform="translate(932.39,414.80) scale(0.1905,0.2575)" font-size="100" fill="#1d1d1b" letter-spacing="12.49">Türkei</text>
<text transform="translate(932.57,414.80) scale(0.1905,0.2575)" font-size="100" fill="#1d1d1b" letter-spacing="12.49">Türkei</text>
<text transform="translate(932.75,414.80) scale(0.1905,0.2575)" font-size="100" fill="#1d1d1b" letter-spacing="12.49">Türkei</text>
<text transform="translate(1205.22,435.90) scale(0.5158,0.7695)" font-size="100" fill="#1296c8">3</text>
<text transform="translate(1205.67,435.90) scale(0.5158,0.7695)" font-size="100" fill="#1296c8">3</text>
<text transform="translate(1206.12,435.90) scale(0.5158,0.7695)" font-size="100" fill="#1296c8">3</text>
<text transform="translate(1232.84,435.90) scale(0.5429,0.7695)" font-size="100" fill="#1296c8">7</text>
<text transform="translate(1233.29,435.90) scale(0.5429,0.7695)" font-size="100" fill="#1296c8">7</text>
<text transform="translate(1233.74,435.90) scale(0.5429,0.7695)" font-size="100" fill="#1296c8">7</text>
<text transform="translate(1261.51,435.90) scale(0.5347,0.7695)" font-size="100" fill="#1296c8">5</text>
<text transform="translate(1261.96,435.90) scale(0.5347,0.7695)" font-size="100" fill="#1296c8">5</text>
<text transform="translate(1262.41,435.90) scale(0.5347,0.7695)" font-size="100" fill="#1296c8">5</text>
<text transform="translate(1206.06,480.90) scale(0.1905,0.2575)" font-size="100" fill="#1d1d1b" letter-spacing="18.61">Iran</text>
<text transform="translate(1206.24,480.90) scale(0.1905,0.2575)" font-size="100" fill="#1d1d1b" letter-spacing="18.61">Iran</text>
<text transform="translate(1206.42,480.90) scale(0.1905,0.2575)" font-size="100" fill="#1d1d1b" letter-spacing="18.61">Iran</text>
<text transform="translate(585.75,675.10) scale(0.5405,0.7898)" font-size="100" fill="#6ab634">6</text>
<text transform="translate(586.20,675.10) scale(0.5405,0.7898)" font-size="100" fill="#6ab634">6</text>
<text transform="translate(586.65,675.10) scale(0.5405,0.7898)" font-size="100" fill="#6ab634">6</text>
<text transform="translate(616.28,675.10) scale(0.5340,0.7898)" font-size="100" fill="#6ab634">8</text>
<text transform="translate(616.73,675.10) scale(0.5340,0.7898)" font-size="100" fill="#6ab634">8</text>
<text transform="translate(617.18,675.10) scale(0.5340,0.7898)" font-size="100" fill="#6ab634">8</text>
<text transform="translate(646.54,675.10) scale(0.5427,0.7898)" font-size="100" fill="#6ab634">6</text>
<text transform="translate(646.99,675.10) scale(0.5427,0.7898)" font-size="100" fill="#6ab634">6</text>
<text transform="translate(647.44,675.10) scale(0.5427,0.7898)" font-size="100" fill="#6ab634">6</text>
<text transform="translate(586.37,719.90) scale(0.1905,0.2575)" font-size="100" fill="#1d1d1b" letter-spacing="14.09">Griechenland</text>
<text transform="translate(586.55,719.90) scale(0.1905,0.2575)" font-size="100" fill="#1d1d1b" letter-spacing="14.09">Griechenland</text>
<text transform="translate(586.73,719.90) scale(0.1905,0.2575)" font-size="100" fill="#1d1d1b" letter-spacing="14.09">Griechenland</text>
<text transform="translate(931.61,754.90) scale(0.5276,0.7695)" font-size="100" fill="#fabc1c">6</text>
<text transform="translate(932.06,754.90) scale(0.5276,0.7695)" font-size="100" fill="#fabc1c">6</text>
<text transform="translate(932.51,754.90) scale(0.5276,0.7695)" font-size="100" fill="#fabc1c">6</text>
<text transform="translate(959.71,754.90) scale(0.5275,0.7695)" font-size="100" fill="#fabc1c">2</text>
<text transform="translate(960.16,754.90) scale(0.5275,0.7695)" font-size="100" fill="#fabc1c">2</text>
<text transform="translate(960.61,754.90) scale(0.5275,0.7695)" font-size="100" fill="#fabc1c">2</text>
<text transform="translate(987.13,754.90) scale(0.5406,0.7695)" font-size="100" fill="#fabc1c">4</text>
<text transform="translate(987.58,754.90) scale(0.5406,0.7695)" font-size="100" fill="#fabc1c">4</text>
<text transform="translate(988.03,754.90) scale(0.5406,0.7695)" font-size="100" fill="#fabc1c">4</text>
<text transform="translate(931.95,799.90) scale(0.1937,0.2618)" font-size="100" fill="#1d1d1b" letter-spacing="13.11">Syrien</text>
<text transform="translate(932.13,799.90) scale(0.1937,0.2618)" font-size="100" fill="#1d1d1b" letter-spacing="13.11">Syrien</text>
<text transform="translate(932.31,799.90) scale(0.1937,0.2618)" font-size="100" fill="#1d1d1b" letter-spacing="13.11">Syrien</text>
</g>
</svg>
</body></html>
